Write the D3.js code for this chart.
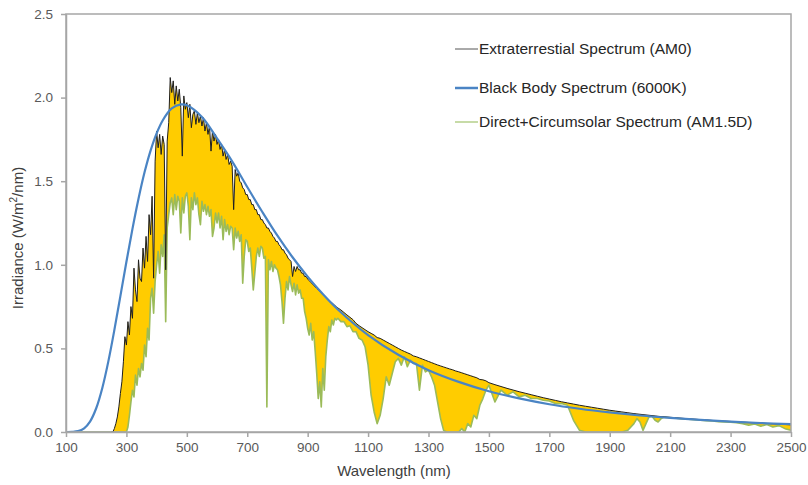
<!DOCTYPE html>
<html>
<head>
<meta charset="utf-8">
<script src="https://cdn.jsdelivr.net/npm/d3@7"></script>
<style>
  body { margin: 0; background: #fff; }
  svg { display: block; }
  text { font-family: "Liberation Sans", Arial, sans-serif; }
</style>
</head>
<body>
<svg id="chart" width="808" height="485"></svg>
<script>
// Wavelength grid (nm) shared by the two measured spectra
const wavelength = [
  100,
  250, 255, 260, 265, 270, 275, 280, 285, 290, 295,
  300, 305, 310, 315, 320, 325, 330, 335, 340, 345,
  350, 355, 360, 365, 370, 375, 380, 385, 390, 395,
  400, 405, 410, 415, 420, 425, 430, 435, 440, 445,
  450, 455, 460, 465, 470, 475, 480, 485, 490, 495,
  500, 505, 510, 515, 520, 525, 530, 535, 540, 545,
  550, 555, 560, 565, 570, 575, 580, 585, 590, 595,
  600, 605, 610, 615, 620, 625, 630, 635, 640, 645,
  650, 655, 660, 665, 670, 675, 680, 685, 690, 695,
  700, 705, 710, 715, 720, 725, 730, 735, 740, 745,
  750, 755, 760, 765, 770, 775, 780, 785, 790, 795,
  800, 805, 810, 815, 820, 825, 830, 835, 840, 845,
  850, 855, 860, 865, 870, 875, 880, 885, 890, 895,
  900, 905, 910, 915, 920, 925, 930, 935, 940, 945,
  950, 955, 960, 965, 970, 975, 980, 985, 990, 995,
  1000, 1010, 1020, 1030, 1040, 1050, 1060, 1070, 1080, 1090,
  1100, 1110, 1120, 1130, 1140, 1150, 1160, 1170, 1180, 1190,
  1200, 1210, 1220, 1230, 1240, 1250, 1260, 1270, 1280, 1290,
  1300, 1310, 1320, 1330, 1340, 1350, 1360, 1370, 1380, 1390,
  1400, 1410, 1420, 1430, 1440, 1450, 1460, 1470, 1480, 1490,
  1500, 1520, 1540, 1560, 1580, 1600, 1620, 1640, 1660, 1680,
  1700, 1720, 1740, 1760, 1780, 1800, 1820, 1840, 1860, 1880,
  1900, 1920, 1940, 1960, 1980, 1990,
  2000, 2010, 2020, 2030, 2040, 2050, 2060, 2070, 2080, 2100,
  2120, 2140, 2160, 2180, 2200, 2220, 2240, 2260, 2280, 2300,
  2320, 2340, 2360, 2380, 2400, 2420, 2440, 2460, 2480, 2500
];

// Extraterrestrial spectrum AM0 (W/m²/nm)
const extraterrestrial = [
  0,
  0, 0, 0.02, 0.05, 0.09, 0.15, 0.23, 0.30, 0.42, 0.57,
  0.52, 0.66, 0.58, 0.75, 0.68, 0.98, 0.85, 0.78, 1.03, 0.92,
  0.90, 1.10, 0.98, 1.17, 1.02, 1.30, 1.18, 1.41, 0.92, 1.62,
  1.80, 1.70, 1.78, 1.66, 1.77, 1.72, 0.97, 1.74, 1.85, 2.12,
  2.03, 2.10, 1.96, 2.07, 1.98, 2.05, 1.94, 1.65, 2.01, 1.93,
  1.97, 1.88, 1.96, 1.82, 1.90, 1.92, 1.84, 1.91, 1.85, 1.89,
  1.83, 1.88, 1.80, 1.85, 1.78, 1.83, 1.68, 1.80, 1.74, 1.78,
  1.72, 1.75, 1.69, 1.72, 1.65, 1.69, 1.63, 1.66, 1.60, 1.62,
  1.59, 1.33, 1.57, 1.53, 1.55, 1.50, 1.49, 1.46, 1.45, 1.42,
  1.42, 1.39, 1.39, 1.36, 1.36, 1.33, 1.33, 1.30, 1.30, 1.27,
  1.27, 1.25, 1.24, 1.22, 1.22, 1.20, 1.19, 1.17, 1.16, 1.14,
  1.14, 1.12, 1.11, 1.09, 1.09, 1.07, 1.06, 1.04, 1.03, 1.02,
  0.93, 0.99, 0.96, 0.99, 0.97, 0.97, 0.95, 0.95, 0.93, 0.93,
  0.915, 0.905, 0.896, 0.886, 0.877, 0.868, 0.859, 0.850, 0.841, 0.832,
  0.823, 0.814, 0.805, 0.797, 0.789, 0.781, 0.773, 0.765, 0.757, 0.749,
  0.742, 0.730, 0.715, 0.700, 0.686, 0.672, 0.650, 0.636, 0.624, 0.612,
  0.600, 0.590, 0.580, 0.565, 0.560, 0.550, 0.540, 0.530, 0.520, 0.510,
  0.500, 0.490, 0.482, 0.474, 0.466, 0.455, 0.450, 0.443, 0.436, 0.429,
  0.422, 0.415, 0.408, 0.401, 0.395, 0.389, 0.383, 0.377, 0.372, 0.365,
  0.360, 0.354, 0.348, 0.342, 0.336, 0.330, 0.324, 0.314, 0.312, 0.306,
  0.295, 0.283, 0.272, 0.261, 0.251, 0.241, 0.232, 0.223, 0.214, 0.205,
  0.197, 0.189, 0.181, 0.174, 0.167, 0.160, 0.154, 0.148, 0.142, 0.136,
  0.130, 0.125, 0.120, 0.115, 0.110, 0.108,
  0.106, 0.104, 0.102, 0.100, 0.098, 0.096, 0.094, 0.092, 0.091, 0.088,
  0.085, 0.082, 0.079, 0.077, 0.074, 0.072, 0.069, 0.067, 0.065, 0.063,
  0.061, 0.059, 0.057, 0.055, 0.053, 0.051, 0.049, 0.047, 0.045, 0.043
];

// Direct + circumsolar spectrum AM1.5D (W/m²/nm)
const directCircumsolar = [
  0,
  0, 0, 0, 0, 0, 0, 0, 0, 0, 0,
  0, 0.03, 0.10, 0.18, 0.25, 0.21, 0.34, 0.28, 0.38, 0.33,
  0.41, 0.37, 0.52, 0.45, 0.62, 0.55, 0.80, 0.86, 0.71, 0.90,
  1.00, 1.08, 0.95, 1.12, 1.05, 1.18, 0.66, 1.22, 1.30, 1.37,
  1.40, 1.30, 1.42, 1.33, 1.41, 1.38, 1.19, 1.40, 1.31, 1.41,
  1.43, 1.35, 1.15, 1.40, 1.33, 1.43, 1.36, 1.40, 1.30, 1.24,
  1.38, 1.32, 1.36, 1.30, 1.35, 1.29, 1.33, 1.17, 1.22, 1.31,
  1.25, 1.31, 1.22, 1.29, 1.15, 1.27, 1.20, 1.24, 1.18, 1.23,
  1.22, 1.09, 1.22, 1.16, 1.20, 1.14, 1.18, 0.89, 1.05, 1.15,
  1.14, 1.08, 1.10, 0.98, 0.85, 0.95, 1.05, 1.10, 1.05, 1.11,
  1.10, 1.04, 1.05, 0.15, 1.03, 0.97, 1.02, 0.96, 1.00, 0.98,
  0.97, 0.93, 0.88, 0.78, 0.65, 0.80, 0.90, 0.85, 0.93, 0.88,
  0.84, 0.89, 0.82, 0.88, 0.83, 0.85, 0.80, 0.80, 0.72, 0.68,
  0.62, 0.58, 0.65, 0.55, 0.60, 0.48, 0.35, 0.20, 0.30, 0.15,
  0.38, 0.25, 0.45, 0.55, 0.63, 0.60, 0.67, 0.64, 0.68, 0.67,
  0.68, 0.66, 0.66, 0.63, 0.635, 0.60, 0.60, 0.56, 0.55, 0.51,
  0.40, 0.22, 0.12, 0.05, 0.10, 0.20, 0.33, 0.28, 0.35, 0.42,
  0.44, 0.40, 0.45, 0.39, 0.43, 0.41, 0.41, 0.25, 0.40, 0.36,
  0.37, 0.33, 0.28, 0.18, 0.08, 0.01, 0, 0, 0, 0,
  0, 0.02, 0, 0.05, 0.03, 0.10, 0.08, 0.16, 0.20, 0.25,
  0.28, 0.18, 0.25, 0.22, 0.24, 0.21, 0.22, 0.20, 0.20, 0.19,
  0.185, 0.17, 0.17, 0.16, 0.07, 0.01, 0, 0, 0, 0,
  0, 0, 0, 0.01, 0.05, 0.08,
  0.06, 0.01, 0.05, 0.09, 0.094, 0.07, 0.06, 0.08, 0.088, 0.085,
  0.082, 0.078, 0.076, 0.073, 0.070, 0.068, 0.066, 0.062, 0.060, 0.058,
  0.055, 0.050, 0.040, 0.048, 0.035, 0.045, 0.030, 0.038, 0.020, 0.010
];

// Black body spectrum (6000 K), scaled to the solar irradiance
const bbWavelength = [
  100, 120, 140, 160, 180, 200, 220, 240, 260, 280,
  300, 320, 340, 360, 380, 400, 420, 450, 480, 500,
  550, 600, 650, 700, 750, 800, 850, 900, 950, 1000,
  1100, 1200, 1300, 1400, 1500, 1600, 1700, 1800, 1900, 2000,
  2100, 2200, 2300, 2400, 2500
];
const blackBody = [
  0, 0.0006, 0.005, 0.022, 0.064, 0.142, 0.262, 0.421, 0.609, 0.813,
  1.018, 1.215, 1.395, 1.553, 1.683, 1.786, 1.863, 1.935, 1.959, 1.954,
  1.884, 1.756, 1.619, 1.465, 1.316, 1.174, 1.045, 0.929, 0.825, 0.733,
  0.580, 0.462, 0.370, 0.300, 0.244, 0.201, 0.166, 0.139, 0.117, 0.0988,
  0.0841, 0.0720, 0.0620, 0.0536, 0.0466
];

const xTicks = [100, 300, 500, 700, 900, 1100, 1300, 1500, 1700, 1900, 2100, 2300, 2500];
const yTicks = [0, 0.5, 1.0, 1.5, 2.0, 2.5];
const seriesNames = [
  "Extraterrestial Spectrum (AM0)",
  "Black Body Spectrum (6000K)",
  "Direct+Circumsolar Spectrum (AM1.5D)"
];

const COLORS = { am0: "#1e1e1e", bb: "#4a84c4", am15: "#9bbb59", fill: "#ffcc00", axis: "#a6a6a6", text: "#595959" };

const svg = d3.select("#chart");
const plot = { left: 66, right: 791, top: 14, bottom: 432 };

const x = d3.scaleLinear().domain([100, 2500]).range([plot.left, plot.right]);
const y = d3.scaleLinear().domain([0, 2.5]).range([plot.bottom, plot.top]);

const spectra = wavelength.map((w, i) => ({ w, e: extraterrestrial[i], d: directCircumsolar[i] }));
const bbPoints = bbWavelength.map((w, i) => ({ w, v: blackBody[i] }));

// Absorbed band: area between AM0 and AM1.5D
svg.append("path")
  .datum(spectra)
  .attr("fill", COLORS.fill)
  .attr("d", d3.area().x(p => x(p.w)).y0(p => y(p.d)).y1(p => y(p.e)));

svg.append("path")
  .datum(spectra)
  .attr("fill", "none")
  .attr("stroke", COLORS.am15)
  .attr("stroke-width", 1.6)
  .attr("stroke-linejoin", "round")
  .attr("d", d3.line().x(p => x(p.w)).y(p => y(p.d)));

svg.append("path")
  .datum(spectra.filter(p => p.w >= 250))
  .attr("fill", "none")
  .attr("stroke", COLORS.am0)
  .attr("stroke-width", 1)
  .attr("stroke-linejoin", "round")
  .attr("d", d3.line().x(p => x(p.w)).y(p => y(p.e)));

svg.append("path")
  .datum(bbPoints)
  .attr("fill", "none")
  .attr("stroke", COLORS.bb)
  .attr("stroke-width", 2.2)
  .attr("d", d3.line().curve(d3.curveCatmullRom).x(p => x(p.w)).y(p => y(p.v)));

// Plot frame
svg.append("rect")
  .attr("x", plot.left).attr("y", plot.top)
  .attr("width", plot.right - plot.left).attr("height", plot.bottom - plot.top)
  .attr("fill", "none").attr("stroke", COLORS.axis).attr("stroke-width", 1.5);

// Axes
const xAxis = svg.append("g")
  .attr("transform", `translate(0,${plot.bottom})`)
  .call(d3.axisBottom(x).tickValues(xTicks).tickFormat(d3.format("d")).tickSize(5).tickSizeOuter(0).tickPadding(5));
const yAxis = svg.append("g")
  .attr("transform", `translate(${plot.left},0)`)
  .call(d3.axisLeft(y).tickValues(yTicks).tickFormat(d3.format(".1f")).tickSize(5).tickSizeOuter(0).tickPadding(8));

[xAxis, yAxis].forEach(g => {
  g.select(".domain").attr("stroke", COLORS.axis).attr("stroke-width", 1.5);
  g.selectAll(".tick line").attr("stroke", COLORS.axis).attr("stroke-width", 1.5);
  g.selectAll(".tick text")
    .attr("fill", COLORS.text)
    .style("font-size", "13.5px")
    .style("font-family", '"Liberation Sans", Arial, sans-serif');
});

// Axis titles
svg.append("text")
  .attr("x", 394).attr("y", 476)
  .attr("text-anchor", "middle")
  .attr("fill", "#404040")
  .style("font-size", "15px")
  .text("Wavelength (nm)");

const yTitle = svg.append("text")
  .attr("transform", "translate(23,238) rotate(-90)")
  .attr("text-anchor", "middle")
  .attr("fill", "#404040")
  .style("font-size", "15px");
yTitle.append("tspan").text("Irradiance (W/m");
yTitle.append("tspan").attr("dy", -6).style("font-size", "10px").text("2");
yTitle.append("tspan").attr("dy", 6).text("/nm)");

// Legend
const legendRows = [
  { name: seriesNames[0], color: "#555", width: 1, y: 49 },
  { name: seriesNames[1], color: COLORS.bb, width: 2.5, y: 88 },
  { name: seriesNames[2], color: "#b5cf8a", width: 1.5, y: 122 }
];
const legend = svg.append("g");
legendRows.forEach(r => {
  legend.append("line")
    .attr("x1", 455).attr("x2", 478).attr("y1", r.y).attr("y2", r.y)
    .attr("stroke", r.color).attr("stroke-width", r.width);
  legend.append("text")
    .attr("x", 479).attr("y", r.y).attr("dy", "0.35em")
    .attr("fill", "#262626")
    .style("font-size", "15.5px")
    .text(r.name);
});
</script>
</body>
</html>
